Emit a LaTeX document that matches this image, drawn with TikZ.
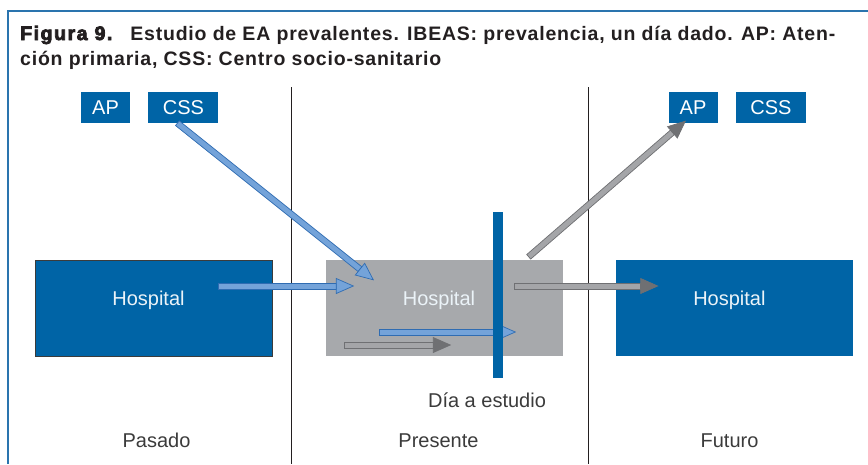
\documentclass[tikz,border=0pt]{standalone}
\usepackage{fontspec}
\setmainfont{Liberation Sans}
\newfontfamily\heavyfont[FakeBold=4,LetterSpace=8]{Liberation Sans Bold}
\newfontfamily\titlefont[LetterSpace=4]{Liberation Sans Bold}
\usetikzlibrary{positioning,calc}
\definecolor{ibblue}{HTML}{0064A6}
\definecolor{framecol}{HTML}{2A74AE}
\definecolor{boxgray}{HTML}{A7A9AC}
\definecolor{arrblue}{HTML}{74A3D9}
\definecolor{arrblueline}{HTML}{2F6CB2}
\definecolor{arrgray}{HTML}{A4A5A8}
\definecolor{arrgrayline}{HTML}{6F7073}
\definecolor{inkgray}{HTML}{3B3B3B}
\definecolor{titleink}{HTML}{231F20}

% shaft style, head style, from, to
\newcommand{\flowarrow}[4]{%
  \coordinate (fabase) at ($(#4)!17pt!(#3)$);
  \filldraw[#1] ($(#3)!3pt!90:(#4)$) -- ($(fabase)!3pt!-90:(#3)$)
    -- ($(fabase)!3pt!90:(#3)$) -- ($(#3)!3pt!-90:(#4)$) -- cycle;
  \filldraw[#2] ($(fabase)!7.5pt!-90:(#3)$) -- (#4)
    -- ($(fabase)!7.5pt!90:(#3)$) -- cycle;
}

\begin{document}
\begin{tikzpicture}[x=1pt,y=-1pt,
  title/.style={text=titleink,inner sep=0pt,font=\fontsize{19.5}{24}\titlefont},
  tag/.style={fill=ibblue,text=white,minimum height=31pt,inner sep=0pt,font=\fontsize{20}{24}\selectfont},
  ward/.style={inner sep=0pt,text width=237pt,align=center,text height=45pt,text depth=51pt,
    text=white!92!ibblue,font=\fontsize{20}{24}\selectfont},
  period/.style={text=inkgray,inner sep=0pt,font=\fontsize{20}{24}\selectfont},
  divider/.style={titleink,line width=1pt},
  bluearrow/.style={fill=arrblue,draw=arrblueline,line width=0.7pt,line join=miter},
  grayshaft/.style={fill=arrgray,draw=arrgrayline,line width=0.7pt},
  grayhead/.style={fill=arrgrayline,draw=arrgrayline,line width=0.7pt,line join=miter}]
	\useasboundingbox (0,0) rectangle (868,464);
	\draw[framecol,line width=1.5pt] (8,464) -- (8,11) -- (868,11);
	\node[title,anchor=base west] (cap1) at (20,40) {{\heavyfont Figura 9.}\hspace{18pt}Estudio de EA prevalentes. IBEAS: prevalencia, un día dado. AP: Aten-};
	\node[title,anchor=base west] (cap2) at (20,65) {ción primaria, CSS: Centro socio-sanitario};
	\draw[divider] (291,87) -- (291,464);
	\draw[divider] (588,87) -- (588,464);
	% origin and destination outside hospital
	\node[tag,minimum width=49pt] (apl) at (105.5,107.5) {AP};
	\node[tag,minimum width=70pt,right=18pt of apl] (cssl) {CSS};
	\node[tag,minimum width=49pt] (apr) at (693,107.5) {AP};
	\node[tag,minimum width=70pt,right=18pt of apr] (cssr) {CSS};
	% hospital stays
	\node[ward,fill=ibblue,draw=inkgray,line width=0.6pt] (hpas) at (153.5,308) {Hospital\hspace*{10pt}};
	\node[ward,fill=boxgray,right=53pt of hpas] (hpre) {Hospital\hspace*{10pt}};
	\node[ward,fill=ibblue,right=53pt of hpre] (hfut) {Hospital\hspace*{10pt}};
	\coordinate (a1s) at ([xshift=-6pt]cssl.south);
	\coordinate (a1e) at ([xshift=48pt,yshift=-20pt]hpre.north west);
	\coordinate (a2s) at ([xshift=-54pt,yshift=22pt]hpas.east);
	\coordinate (a2e) at ([xshift=28pt,yshift=22pt]hpre.west);
	\coordinate (a3s) at ([xshift=54pt,yshift=-24pt]hpre.west);
	\coordinate (a3e) at ([xshift=190pt,yshift=-24pt]hpre.west);
	\coordinate (a4s) at ([xshift=19pt,yshift=-37pt]hpre.west);
	\coordinate (a4e) at ([xshift=125pt,yshift=-37pt]hpre.west);
	\coordinate (a5s) at ([xshift=-48pt,yshift=22pt]hpre.east);
	\coordinate (a5e) at ([xshift=42pt,yshift=22pt]hfut.west);
	\coordinate (a6s) at ([xshift=-34pt,yshift=3pt]hpre.north east);
	\coordinate (a6e) at ([xshift=17pt,yshift=2pt]apr.south west);
	\flowarrow{bluearrow}{bluearrow}{a1s}{a1e}
	\flowarrow{bluearrow}{bluearrow}{a2s}{a2e}
	\flowarrow{bluearrow}{bluearrow}{a3s}{a3e}
	\flowarrow{grayshaft}{grayhead}{a4s}{a4e}
	\flowarrow{grayshaft}{grayhead}{a5s}{a5e}
	\flowarrow{grayshaft}{grayhead}{a6s}{a6e}
	% study day
	\node[fill=ibblue,minimum width=10pt,minimum height=166pt,inner sep=0pt] (cut) at (498,295) {};
	\node[period,anchor=base] (cutlbl) at (487,407) {Día a estudio};
	\node[period,anchor=base] (past) at (156.5,447) {Pasado};
	\node[period,anchor=base] (now) at (438.5,447) {Presente};
	\node[period,anchor=base] (next) at (729.5,447) {Futuro};
\end{tikzpicture}
\end{document}
